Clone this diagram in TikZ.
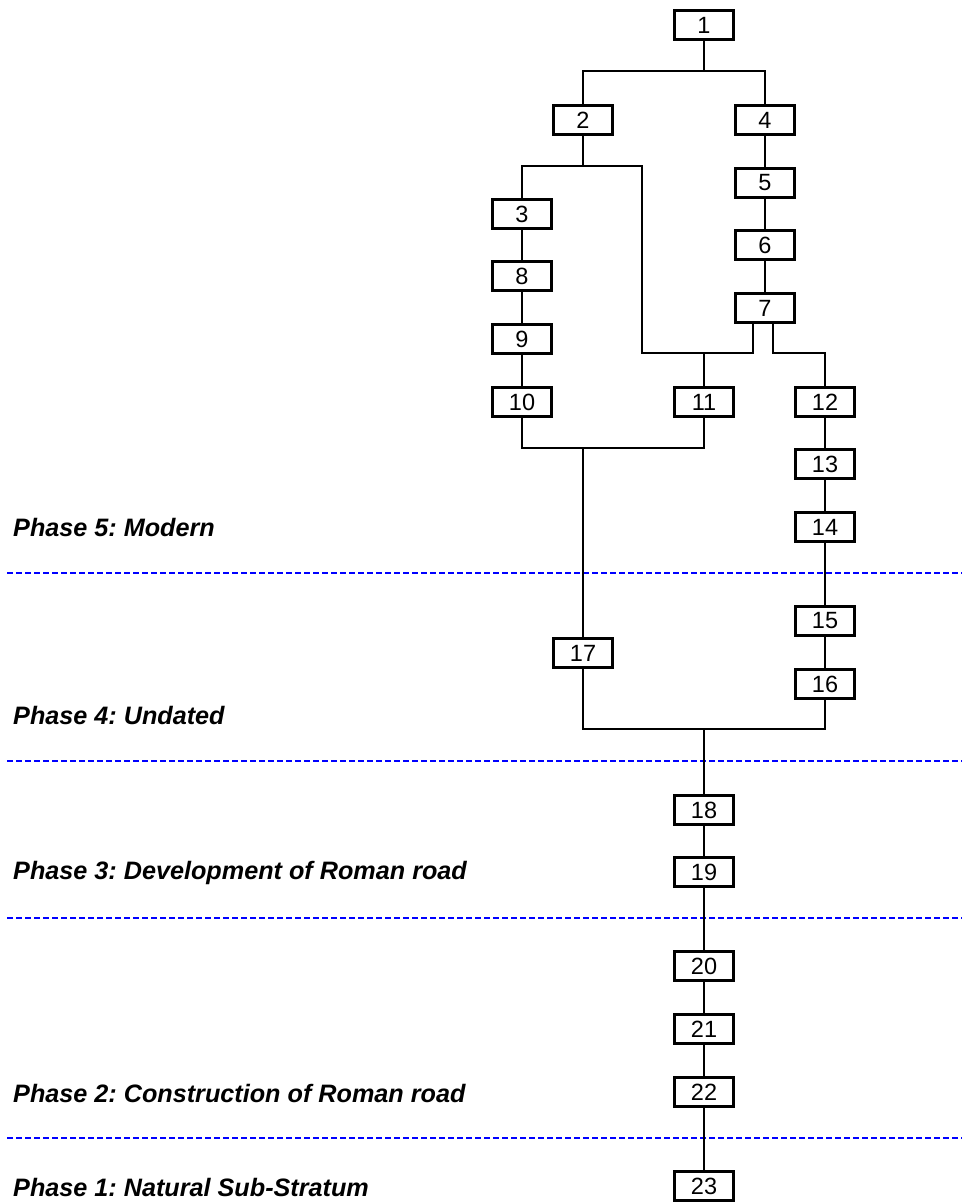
\documentclass[tikz,border=0pt]{standalone}
\usepackage{fontspec}
\setmainfont{Liberation Sans}
\frenchspacing
\begin{document}
\begin{tikzpicture}[x=1pt,y=-1pt,
  unit/.style={draw,line width=2.8pt,fill=white,minimum width=59.5pt,minimum height=29.5pt,inner sep=0pt,font=\fontsize{23.5}{23.5}\selectfont},
  link/.style={line width=1.6pt},
  phase/.style={anchor=west,inner sep=0pt,font=\fontsize{25.2}{25.2}\selectfont\bfseries\itshape},
  divider/.style={blue,line width=2pt,dash pattern=on 5.5pt off 3.5pt}]
\useasboundingbox (0,0) rectangle (962,1203);

% phase dividers
\coordinate (d1a) at (7,573);  \coordinate (d1b) at (962,573);
\coordinate (d2a) at (7,761);  \coordinate (d2b) at (962,761);
\coordinate (d3a) at (7,918);  \coordinate (d3b) at (962,918);
\coordinate (d4a) at (7,1138); \coordinate (d4b) at (962,1138);
\draw[divider] (d1a) -- (d1b);
\draw[divider] (d2a) -- (d2b);
\draw[divider] (d3a) -- (d3b);
\draw[divider] (d4a) -- (d4b);

% phase labels
\node[phase] (p5) at (13,527) {Phase 5: Modern};
\node[phase] (p4) at (13,715) {Phase 4: Undated};
\node[phase] (p3) at (13,873) {Phase 3: Development of Roman road};
\node[phase] (p2) at (13,1093) {Phase 2: Construction of Roman road};
\node[phase] (p1) at (13,1187) {Phase 1: Natural Sub-Stratum};

% contexts
\node[unit] (n1)  at (704,25)   {1};
\node[unit] (n2)  at (583,120)  {2};
\node[unit] (n4)  at (765,120)  {4};
\node[unit] (n5)  at (765,183)  {5};
\node[unit] (n3)  at (522,214)  {3};
\node[unit] (n6)  at (765,245)  {6};
\node[unit] (n8)  at (522,276)  {8};
\node[unit] (n7)  at (765,308)  {7};
\node[unit] (n9)  at (522,339)  {9};
\node[unit] (n10) at (522,402)  {10};
\node[unit] (n11) at (704,402)  {11};
\node[unit] (n12) at (825,402)  {12};
\node[unit] (n13) at (825,464)  {13};
\node[unit] (n14) at (825,527)  {14};
\node[unit] (n15) at (825,621)  {15};
\node[unit] (n17) at (583,653)  {17};
\node[unit] (n16) at (825,684)  {16};
\node[unit] (n18) at (704,810)  {18};
\node[unit] (n19) at (704,872)  {19};
\node[unit] (n20) at (704,966)  {20};
\node[unit] (n21) at (704,1029) {21};
\node[unit] (n22) at (704,1092) {22};
\node[unit] (n23) at (704,1186) {23};

% junction points
\coordinate (r1)  at (704,71);
\coordinate (r2)  at (583,166);
\coordinate (c2)  at (642,166);
\coordinate (c7)  at (642,353);
\coordinate (r10) at (583,448);
\coordinate (r17) at (704,729);

% 1 splits to 2 and 4
\draw[link] (n1.south) -- (r1);
\draw[link] (n2.north) -- (n2.north |- r1) -- (n4.north |- r1) -- (n4.north);

% 2 splits to 3 and the long run down to 11
\draw[link] (n2.south) -- (r2);
\draw[link] (n3.north) -- (n3.north |- r2) -- (c2) -- (c7)
  -- ([xshift=-12pt]n7.south |- c7) -- ([xshift=-12pt]n7.south);
\draw[link] (n11.north) -- (n11.north |- c7);
\draw[link] ([xshift=8pt]n7.south) -- ([xshift=8pt]n7.south |- c7)
  -- (n12.north |- c7) -- (n12.north);

% vertical sequences
\draw[link] (n4.south) -- (n5.north);
\draw[link] (n5.south) -- (n6.north);
\draw[link] (n6.south) -- (n7.north);
\draw[link] (n3.south) -- (n8.north);
\draw[link] (n8.south) -- (n9.north);
\draw[link] (n9.south) -- (n10.north);
\draw[link] (n12.south) -- (n13.north);
\draw[link] (n13.south) -- (n14.north);
\draw[link] (n14.south) -- (n15.north);
\draw[link] (n15.south) -- (n16.north);

% 10 and 11 join into 17
\draw[link] (n10.south) -- (n10.south |- r10) -- (n11.south |- r10) -- (n11.south);
\draw[link] (r10) -- (n17.north);

% 17 and 16 join into 18
\draw[link] (n17.south) -- (n17.south |- r17) -- (n16.south |- r17) -- (n16.south);
\draw[link] (r17) -- (n18.north);

\draw[link] (n18.south) -- (n19.north);
\draw[link] (n19.south) -- (n20.north);
\draw[link] (n20.south) -- (n21.north);
\draw[link] (n21.south) -- (n22.north);
\draw[link] (n22.south) -- (n23.north);
\end{tikzpicture}
\end{document}
